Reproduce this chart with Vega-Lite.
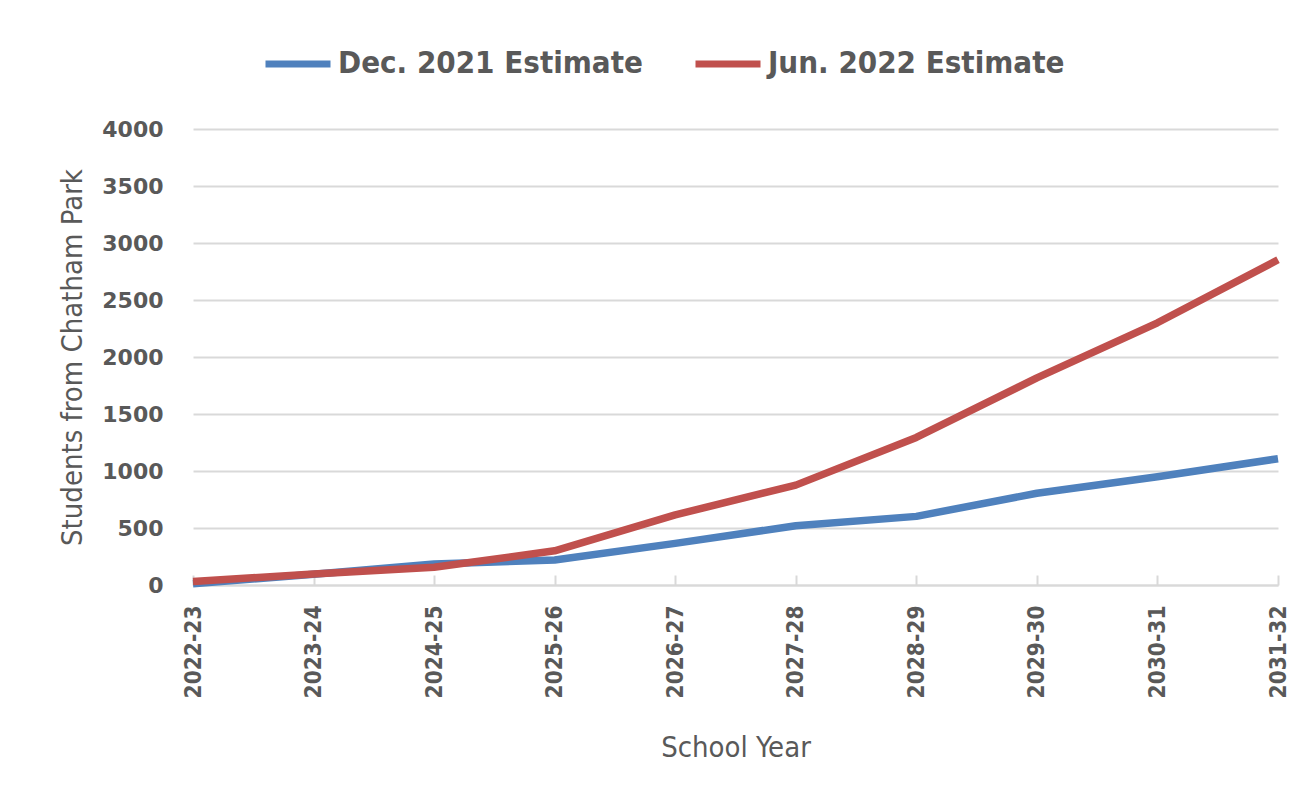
{
  "$schema": "https://vega.github.io/schema/vega-lite/v6.json",
  "width": 1085,
  "height": 456,
  "autosize": {"type": "none"},
  "padding": {"left": 193, "top": 129, "right": 18, "bottom": 220},
  "background": "white",
  "data": {
    "values": [
      {"year": "2022-23", "series": "Dec. 2021 Estimate", "students": 10},
      {"year": "2023-24", "series": "Dec. 2021 Estimate", "students": 95},
      {"year": "2024-25", "series": "Dec. 2021 Estimate", "students": 185},
      {"year": "2025-26", "series": "Dec. 2021 Estimate", "students": 220},
      {"year": "2026-27", "series": "Dec. 2021 Estimate", "students": 365},
      {"year": "2027-28", "series": "Dec. 2021 Estimate", "students": 520},
      {"year": "2028-29", "series": "Dec. 2021 Estimate", "students": 602},
      {"year": "2029-30", "series": "Dec. 2021 Estimate", "students": 805},
      {"year": "2030-31", "series": "Dec. 2021 Estimate", "students": 950},
      {"year": "2031-32", "series": "Dec. 2021 Estimate", "students": 1108},
      {"year": "2022-23", "series": "Jun. 2022 Estimate", "students": 30},
      {"year": "2023-24", "series": "Jun. 2022 Estimate", "students": 97},
      {"year": "2024-25", "series": "Jun. 2022 Estimate", "students": 155},
      {"year": "2025-26", "series": "Jun. 2022 Estimate", "students": 300},
      {"year": "2026-27", "series": "Jun. 2022 Estimate", "students": 615},
      {"year": "2027-28", "series": "Jun. 2022 Estimate", "students": 876},
      {"year": "2028-29", "series": "Jun. 2022 Estimate", "students": 1294},
      {"year": "2029-30", "series": "Jun. 2022 Estimate", "students": 1817},
      {"year": "2030-31", "series": "Jun. 2022 Estimate", "students": 2300},
      {"year": "2031-32", "series": "Jun. 2022 Estimate", "students": 2853}
    ]
  },
  "mark": {"type": "line", "strokeWidth": 7.5, "strokeJoin": "round"},
  "encoding": {
    "x": {
      "field": "year",
      "type": "ordinal",
      "sort": null,
      "scale": {"type": "point", "padding": 0},
      "title": "School Year",
      "axis": {
        "labelAngle": -90,
        "labelFont": "Liberation Sans Narrow, DejaVu Sans Condensed, DejaVu Sans",
        "labelFontWeight": "bold",
        "labelFontSize": 22.5,
        "labelColor": "#595959",
        "labelPadding": 30,
        "domainColor": "#d9d9d9",
        "domainWidth": 2,
        "tickColor": "#d9d9d9",
        "tickWidth": 2,
        "tickSize": -10,
        "grid": false,
        "titleFont": "Liberation Sans Narrow, DejaVu Sans Condensed, DejaVu Sans",
        "titleFontWeight": "normal",
        "titleFontSize": 29,
        "titleColor": "#595959",
        "titlePadding": 36
      }
    },
    "y": {
      "field": "students",
      "type": "quantitative",
      "scale": {"domain": [0, 4000], "nice": false},
      "title": "Students from Chatham Park",
      "axis": {
        "values": [0, 500, 1000, 1500, 2000, 2500, 3000, 3500, 4000],
        "format": "d",
        "grid": true,
        "gridColor": "#d9d9d9",
        "gridWidth": 2,
        "domain": false,
        "ticks": false,
        "labelFont": "DejaVu Sans",
        "labelFontWeight": "bold",
        "labelFontSize": 22,
        "labelColor": "#595959",
        "labelPadding": 30,
        "titleFont": "Liberation Sans Narrow, DejaVu Sans Condensed, DejaVu Sans",
        "titleFontWeight": "normal",
        "titleFontSize": 29,
        "titleColor": "#595959",
        "titlePadding": 14
      }
    },
    "color": {
      "field": "series",
      "type": "nominal",
      "scale": {
        "domain": ["Dec. 2021 Estimate", "Jun. 2022 Estimate"],
        "range": ["#4f81bd", "#c0504d"]
      },
      "legend": {
        "title": null,
        "orient": "none",
        "direction": "horizontal",
        "legendX": 69,
        "legendY": -101,
        "symbolType": "stroke",
        "symbolSize": 4225,
        "symbolStrokeWidth": 7,
        "labelFont": "Liberation Sans Narrow, DejaVu Sans Condensed, DejaVu Sans",
        "labelFontWeight": "bold",
        "labelFontSize": 31,
        "labelColor": "#595959",
        "labelOffset": 4,
        "columnPadding": 38,
        "labelLimit": 400
      }
    }
  },
  "config": {"view": {"stroke": null}}
}
